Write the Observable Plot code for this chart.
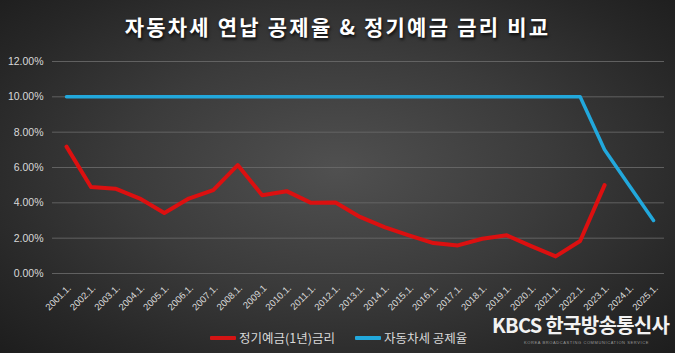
<!DOCTYPE html>
<html><head><meta charset="utf-8">
<script src="https://cdn.jsdelivr.net/npm/d3@7"></script>
<script src="https://cdn.jsdelivr.net/npm/@observablehq/plot@0.6"></script>
<style>
html,body{margin:0;padding:0;background:#222;}
#wrap{position:relative;width:675px;height:353px;overflow:hidden;
 background:radial-gradient(ellipse 70% 75% at 50% 48%, #505050 0%, #3b3b3b 45%, #272727 80%, #1d1d1d 100%);
 font-family:"Noto Sans CJK KR","Noto Sans",sans-serif;}
#title{position:absolute;left:0;width:675px;top:10px;text-align:center;color:#fff;font-weight:bold;font-size:21px;letter-spacing:2.2px;
 text-shadow:1px 2px 3px rgba(0,0,0,0.8);line-height:32px;}
#plot{position:absolute;left:0;top:0;}
.leg{position:absolute;top:328px;height:20px;color:#d9d9d9;font-size:12.5px;line-height:20px;display:flex;align-items:center;}
.leg span.sw{display:inline-block;width:26px;height:3.5px;margin-right:3px;border-radius:1px;}
#logo{position:absolute;left:492px;top:312px;color:#f2f2f2;font-weight:bold;font-size:20px;line-height:25px;white-space:nowrap;letter-spacing:-0.7px;}
#sub{position:absolute;left:524px;top:340px;font-size:4px;color:#9a9a9a;letter-spacing:0.6px;line-height:5px;white-space:nowrap;font-family:"Liberation Sans",sans-serif;}
</style></head>
<body>
<div id="wrap">
<div id="plot"></div>
<div id="title">자동차세 연납 공제율 &amp; 정기예금 금리 비교</div>
<div class="leg" style="left:210px"><span class="sw" style="background:#d41414"></span>정기예금(1년)금리</div>
<div class="leg" style="left:355px"><span class="sw" style="background:#22a8dc"></span>자동차세 공제율</div>
<div id="logo">KBCS 한국방송통신사</div>
<div id="sub">KOREA BROADCASTING COMMUNICATION SERVICE</div>
</div>
<script>
const years = [2001,2002,2003,2004,2005,2006,2007,2008,2009,2010,2011,2012,2013,2014,2015,2016,2017,2018,2019,2020,2021,2022,2023,2024,2025];
const xLabels = ["2001.1.","2002.1.","2003.1.","2004.1.","2005.1.","2006.1.","2007.1.","2008.1.","2009.1","2010.1.","2011.1.","2012.1.","2013.1.","2014.1.","2015.1.","2016.1.","2017.1.","2018.1.","2019.1.","2020.1.","2021.1.","2022.1.","2023.1.","2024.1.","2025.1."];
const depositYears = [2001,2002,2003,2004,2005,2006,2007,2008,2009,2010,2011,2012,2013,2014,2015,2016,2017,2018,2019,2020,2021,2022,2023];
const depositRate = [7.18,4.9,4.8,4.24,3.43,4.24,4.72,6.14,4.43,4.66,4.0,4.02,3.2,2.63,2.16,1.72,1.59,1.97,2.16,1.55,0.97,1.84,5.0];
const taxDeduction = [10,10,10,10,10,10,10,10,10,10,10,10,10,10,10,10,10,10,10,10,10,10,7,5,3];
const yTicks = [0,2,4,6,8,10,12];

const deposit = depositYears.map((y,i)=>({year:y, v:depositRate[i]/100}));
const tax = years.map((y,i)=>({year:y, v:taxDeduction[i]/100}));
const labels = years.map((y,i)=>({year:y, t:xLabels[i]}));

const chart = Plot.plot({
  width:675, height:353,
  marginTop:61, marginBottom:80, marginLeft:52, marginRight:11,
  style:{background:"transparent", fontFamily:"'Liberation Sans','Noto Sans',sans-serif", overflow:"visible"},
  x:{type:"linear", domain:[2001,2025], insetLeft:14, insetRight:11, axis:null},
  y:{domain:[0,0.12], axis:null},
  marks:[
    Plot.ruleY(yTicks.map(d=>d/100), {stroke:"#6a6a6a", strokeWidth:1, strokeOpacity:0.85}),
    Plot.text(yTicks.map(d=>d/100), {y:d=>d, frameAnchor:"left", text:d=>d3.format(".2%")(d), textAnchor:"end", dx:-9, fill:"#d9d9d9", fontSize:10.5}),
    Plot.text(labels, {x:"year", frameAnchor:"bottom", text:"t", rotate:-45, textAnchor:"end", lineAnchor:"middle", dx:3, dy:13, fill:"#d9d9d9", fontSize:9.5}),
    Plot.line(tax, {x:"year", y:"v", stroke:"#22a8dc", strokeWidth:3.5, strokeLinejoin:"round", strokeLinecap:"round", style:"filter:drop-shadow(1px 2px 1.5px rgba(0,0,0,0.55))"}),
    Plot.line(deposit, {x:"year", y:"v", stroke:"#dc1010", strokeWidth:4, strokeLinejoin:"round", strokeLinecap:"round", style:"filter:drop-shadow(1px 2px 1.5px rgba(0,0,0,0.55))"})
  ]
});
document.getElementById("plot").appendChild(chart);
</script>
</body></html>
